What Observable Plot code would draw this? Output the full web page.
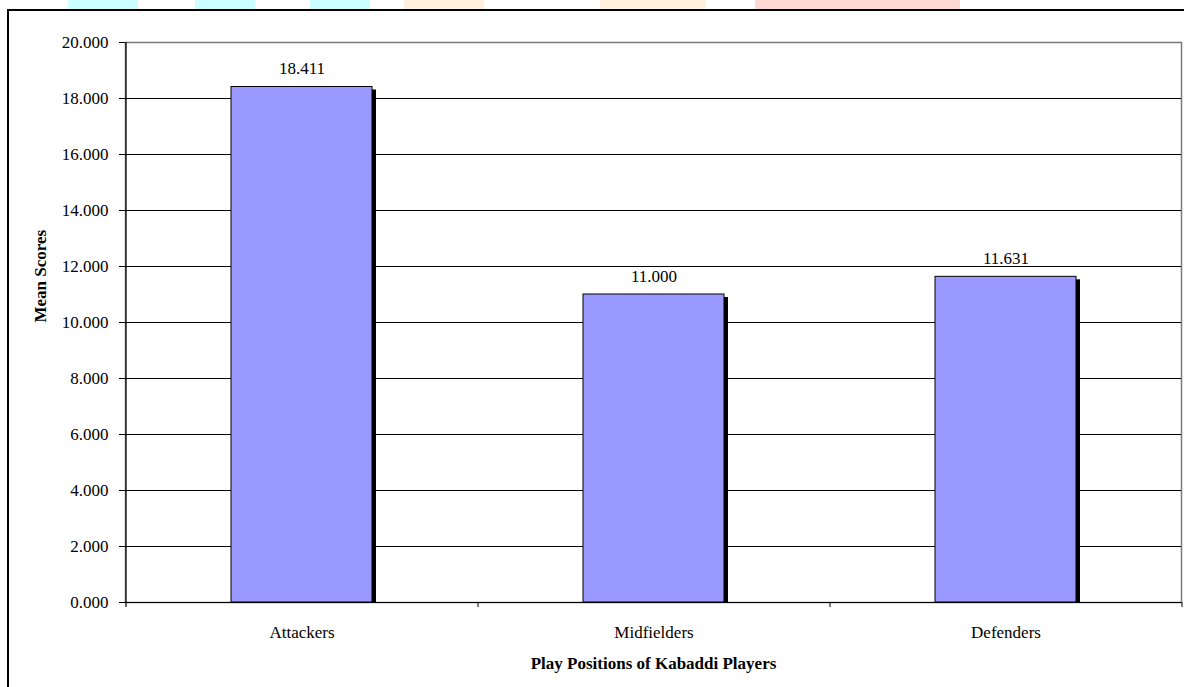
<!DOCTYPE html>
<html>
<head>
<meta charset="utf-8">
<script src="https://cdn.jsdelivr.net/npm/d3@7"></script>
<script src="https://cdn.jsdelivr.net/npm/@observablehq/plot@0.6"></script>
<style>
  html, body { margin: 0; padding: 0; background: #fff; width: 1184px; height: 687px; overflow: hidden; }
  #wrap { position: relative; width: 1184px; height: 687px; }
  #chart { position: absolute; left: 0; top: 0; }
  #chart svg, #chart svg text { font-family: "Liberation Serif", "Times New Roman", Times, serif !important; }
  .deco { position: absolute; top: 0; height: 9px; }
  #outer { position: absolute; left: 7px; top: 9px; width: 1300px; height: 800px;
           border-left: 2px solid #000; border-top: 2px solid #000; pointer-events: none; }
</style>
</head>
<body>
<div id="wrap">
  <div class="deco" style="left:68px;width:70px;background:#ccffff"></div>
  <div class="deco" style="left:195px;width:60px;background:#ccffff"></div>
  <div class="deco" style="left:310px;width:60px;background:#ccffff"></div>
  <div class="deco" style="left:404px;width:80px;background:#ffefdd"></div>
  <div class="deco" style="left:600px;width:106px;background:#ffefdd"></div>
  <div class="deco" style="left:755px;width:205px;background:#ffd9d3"></div>
  <div id="outer"></div>
  <div id="chart"></div>
</div>
<script>
const categories = ["Attackers", "Midfielders", "Defenders"];
const meanScores = [18.411, 11.000, 11.631];
const yTicks = [0, 2, 4, 6, 8, 10, 12, 14, 16, 18, 20];
const yTitle = "Mean Scores";
const xTitle = "Play Positions of Kabaddi Players";

const data = categories.map((c, i) => ({position: c, score: meanScores[i]}));

const W = 1184, H = 687;
const mL = 125, mR = 3, mT = 42, mB = 85;
const step = (W - mL - mR) / categories.length;

const chart = Plot.plot({
  width: W,
  height: H,
  marginLeft: mL,
  marginRight: mR,
  marginTop: mT,
  marginBottom: mB,
  style: {fontFamily: "Liberation Serif, serif", fontSize: "17px", background: "transparent", color: "#000"},
  x: {domain: categories, paddingInner: 0.6, paddingOuter: 0.3, label: null},
  y: {domain: [0, 20], label: null},
  marks: [
    Plot.frame({stroke: "#7a7a7a", strokeWidth: 1.5}),
    Plot.ruleY(yTicks.filter(t => t > 0 && t < 20), {stroke: "#000", strokeWidth: 1}),
    Plot.barY(data, {x: "position", y: "score", fill: "#000", dx: 4, dy: 3, clip: true}),
    Plot.barY(data, {x: "position", y: "score", fill: "#9999ff", stroke: "#000", strokeWidth: 1}),
    Plot.ruleY([0], {stroke: "#000", strokeWidth: 1.2}),
    Plot.ruleX(categories.slice(0, 1), {dx: -step / 2, insetBottom: -5, stroke: "#000", strokeWidth: 1.2}),
    Plot.ruleX(categories.slice(1), {dx: -step / 2, y1: 0, y2: 0, insetBottom: -5, stroke: "#000", strokeWidth: 1}),
    Plot.ruleX(categories.slice(-1), {dx: step / 2, y1: 0, y2: 0, insetBottom: -5, stroke: "#000", strokeWidth: 1}),
    Plot.axisY({ticks: yTicks, tickSize: 6, tickPadding: 11, tickFormat: d => d.toFixed(3), label: null, stroke: "#000"}),
    Plot.axisX({tickSize: 0, tickPadding: 23, label: null}),
    Plot.text(data, {x: "position", y: "score", text: d => d.score.toFixed(3), dy: -18, lineAnchor: "middle", fill: "#000"}),
    Plot.text([xTitle], {frameAnchor: "bottom", dy: 61, lineAnchor: "middle", fontWeight: "bold", fill: "#000"}),
    Plot.text([yTitle], {frameAnchor: "left", dx: -85, rotate: -90, lineAnchor: "middle", fontWeight: "bold", fill: "#000"})
  ]
});
document.getElementById("chart").appendChild(chart);
</script>
</body>
</html>
